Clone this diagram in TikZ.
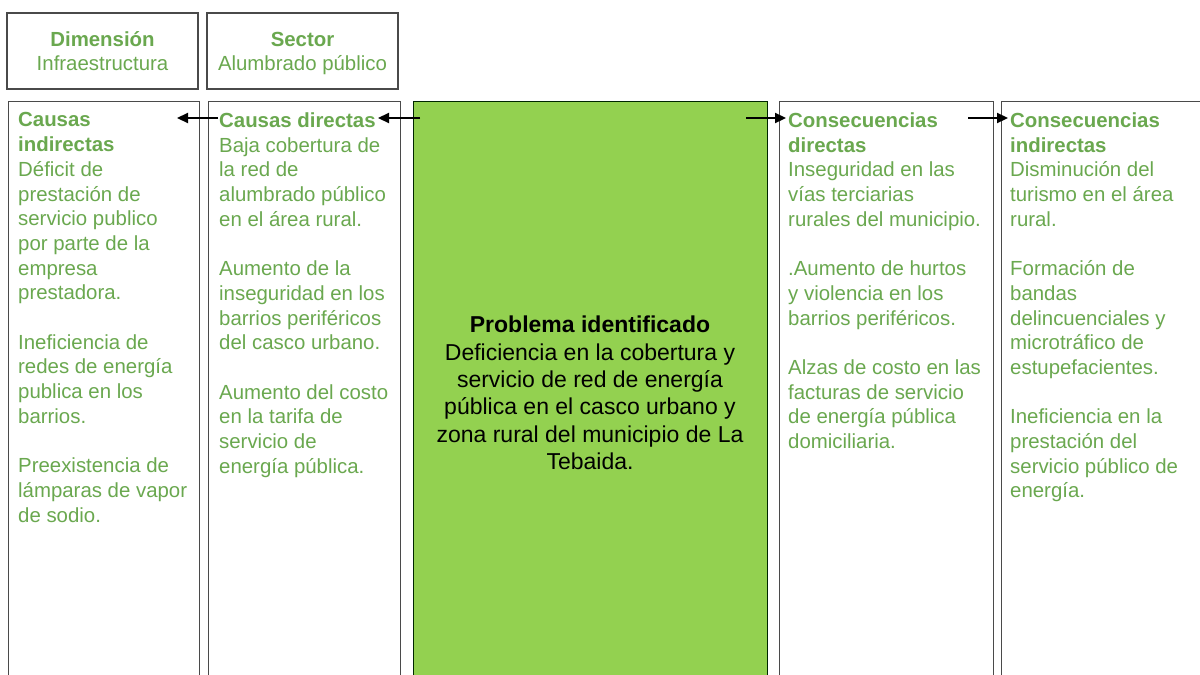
\documentclass[tikz,border=0pt]{standalone}
\usepackage{fontspec}
\setmainfont{Liberation Sans}
\usetikzlibrary{arrows.meta}
\definecolor{txtgreen}{HTML}{6AA84F}
\definecolor{probgreen}{HTML}{93D150}
\definecolor{edgegray}{HTML}{4A4A4A}
\begin{document}
\begin{tikzpicture}[x=1pt,y=-1pt,
  hdrbox/.style={draw=edgegray, line width=1.3pt, fill=white, minimum width=191pt, minimum height=76pt, inner sep=0pt},
  hdrtext/.style={inner sep=0pt, align=center, text=txtgreen, font=\fontsize{20.4}{24}\selectfont},
  colbox/.style={draw=edgegray, line width=1.3pt, fill=white, anchor=north west, inner sep=0pt},
  probbox/.style={draw=black!85!green, line width=1.3pt, fill=probgreen, anchor=north west, inner sep=0pt},
  coltext/.style={anchor=north west, inner sep=0pt, align=left, text=txtgreen, font=\fontsize{20.4}{24.7}\selectfont},
  probtext/.style={anchor=north, inner sep=0pt, align=center, text=black, font=\fontsize{23}{27.3}\selectfont},
  link/.style={-{Triangle[length=11pt,width=10pt]}, line width=2.2pt, black}]
\useasboundingbox (0,0) rectangle (1200,675);
\clip (0,0) rectangle (1200,675);
\fill[white] (0,0) rectangle (1200,675);

% header boxes
\node[hdrbox] (dim) at (102.5,51) {};
\node[hdrbox] (sec) at (302.5,51) {};
\node[hdrtext] (tdim) at (102.5,53) {\textbf{Dimensión}\\Infraestructura\vphantom{p}};
\node[hdrtext] (tsec) at (302.5,53) {\textbf{Sector\vphantom{í}}\\Alumbrado público};

% column boxes
\node[colbox, minimum width=191pt, minimum height=620pt] (ci) at (8,101) {};
\node[colbox, minimum width=192pt, minimum height=620pt] (cd) at (208,101) {};
\node[probbox, minimum width=354pt, minimum height=620pt] (pb) at (413,101) {};
\node[colbox, minimum width=214pt, minimum height=620pt] (cod) at (779,101) {};
\node[colbox, minimum width=230pt, minimum height=620pt] (coi) at (1001,101) {};

% column texts
\node[coltext] (tci) at (18,112.5) {\textbf{Causas}\\\textbf{indirectas}\\Déficit de\\prestación de\\servicio publico\\por parte de la\\empresa\\prestadora.\\[24.7pt]Ineficiencia de\\redes de energía\\publica en los\\barrios.\\[24.7pt]Preexistencia de\\lámparas de vapor\\de sodio.};
\node[coltext] (tcd) at (219,112.5) {\textbf{Causas directas}\\Baja cobertura de\\la red de\\alumbrado público\\en el área rural.\\[24.7pt]Aumento de la\\inseguridad en los\\barrios periféricos\\del casco urbano.\\[24.7pt]Aumento del costo\\en la tarifa de\\servicio de\\energía pública.};
\node[coltext] (tcod) at (788,112.5) {\textbf{Consecuencias}\\\textbf{directas}\\Inseguridad en las\\vías terciarias\\rurales del municipio.\\[24.7pt].Aumento de hurtos\\y violencia en los\\barrios periféricos.\\[24.7pt]Alzas de costo en las\\facturas de servicio\\de energía pública\\domiciliaria.};
\node[coltext] (tcoi) at (1010,112.5) {\textbf{Consecuencias}\\\textbf{indirectas}\\Disminución del\\turismo en el área\\rural.\\[24.7pt]Formación de\\bandas\\delincuenciales y\\microtráfico de\\estupefacientes.\\[24.7pt]Ineficiencia en la\\prestación del\\servicio público de\\energía.};

% problem text
\node[probtext] (tpb) at (590,316) {\textbf{Problema identificado}\\Deficiencia en la cobertura y\\servicio de red de energía\\pública en el casco urbano y\\zona rural del municipio de La\\Tebaida.};

% arrow end points
\coordinate (a1s) at (420,118);
\coordinate (a1e) at (378,118);
\coordinate (a2s) at (218,118);
\coordinate (a2e) at (177,118);
\coordinate (a3s) at (746,118);
\coordinate (a3e) at (786,118);
\coordinate (a4s) at (968,118);
\coordinate (a4e) at (1008,118);

\draw[link] (a1s) -- (a1e);
\draw[link] (a2s) -- (a2e);
\draw[link] (a3s) -- (a3e);
\draw[link] (a4s) -- (a4e);
\end{tikzpicture}
\end{document}
